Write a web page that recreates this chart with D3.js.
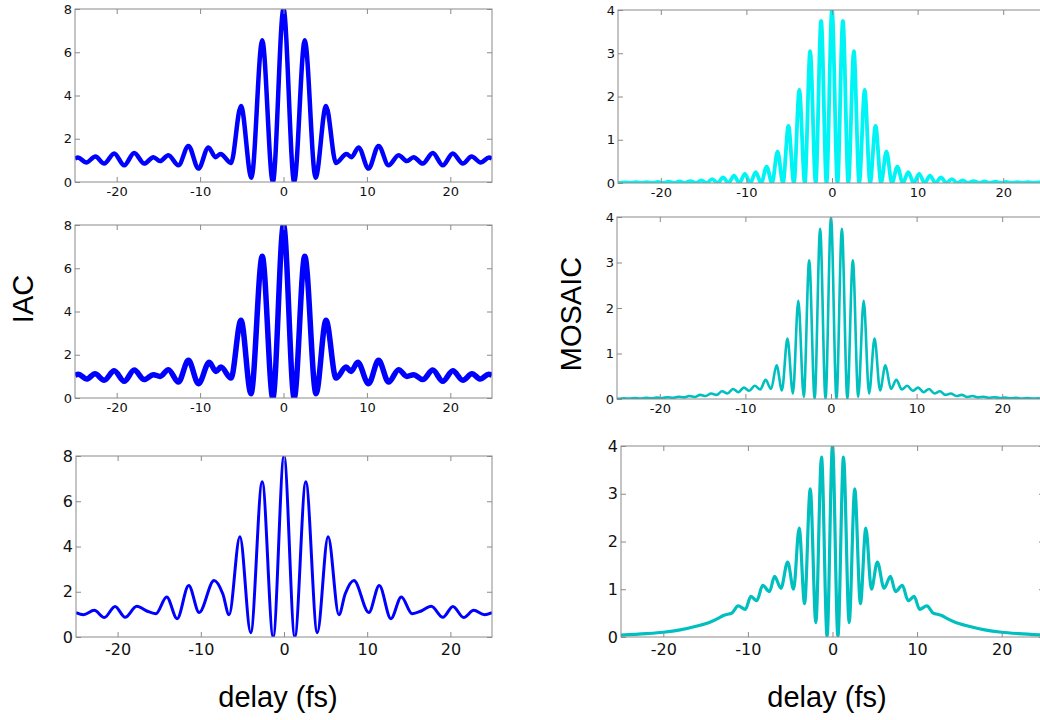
<!DOCTYPE html>
<html>
<head>
<meta charset="utf-8">
<script src="https://cdn.jsdelivr.net/npm/d3@7"></script>
<style>
  html, body { margin: 0; padding: 0; background: #fff; }
  svg { display: block; font-family: "Liberation Sans", Arial, Helvetica, sans-serif; }
</style>
</head>
<body>
<svg id="chart" width="1040" height="720"></svg>
<script>
// ---------- DATA ----------
const delayTicks = [-20, -10, 0, 10, 20];
const iacTicks = [0, 2, 4, 6, 8];
const mosaicTicks = [0, 1, 2, 3, 4];
const delayDomain = [-25, 25];
const iacDomain = [0, 8];
const mosaicDomain = [0, 4];

const rowLabelLeft = "IAC";
const rowLabelRight = "MOSAIC";
const xLabel = "delay (fs)";

// IAC, top panel: extrema [delay fs, value]
const iacTop = [[-25,1.08],[-24.65,1.13],[-23.65,0.9],[-22.55,1.18],[-21.5,0.85],[-20.3,1.32],[-19.1,0.77],[-17.9,1.34],[-16.7,0.85],[-15.6,1.15],[-14.8,0.97],[-13.8,1.24],[-12.6,0.77],[-11.4,1.67],[-10.2,0.62],[-9.0,1.6],[-8.15,1.15],[-7.55,1.3],[-6.3,0.88],[-5.1,3.52],[-3.85,0.2],[-2.55,6.55],[-1.28,0],[0,8],[1.28,0],[2.55,6.55],[3.85,0.2],[5.1,3.52],[6.3,0.88],[7.55,1.3],[8.15,1.15],[9.0,1.6],[10.2,0.62],[11.4,1.67],[12.6,0.77],[13.8,1.24],[14.8,0.97],[15.6,1.15],[16.7,0.85],[17.9,1.34],[19.1,0.77],[20.3,1.32],[21.5,0.85],[22.55,1.18],[23.65,0.9],[24.65,1.13],[25,1.08]];

// IAC, middle panel
const iacMid = [[-25,1.05],[-24.6,1.1],[-23.6,0.88],[-22.6,1.12],[-21.5,0.82],[-20.3,1.26],[-19.1,0.77],[-17.9,1.29],[-16.7,0.85],[-15.6,1.08],[-14.8,1.0],[-13.8,1.31],[-12.6,0.74],[-11.4,1.74],[-10.2,0.66],[-8.9,1.65],[-8.1,1.23],[-7.5,1.43],[-6.3,0.92],[-5.1,3.6],[-3.9,0.2],[-2.55,6.55],[-1.28,0],[0,8],[1.28,0],[2.55,6.55],[3.9,0.2],[5.1,3.6],[6.3,0.92],[7.5,1.43],[8.1,1.23],[8.9,1.65],[10.2,0.66],[11.4,1.74],[12.6,0.74],[13.8,1.31],[14.8,1.0],[15.6,1.08],[16.7,0.85],[17.9,1.29],[19.1,0.77],[20.3,1.26],[21.5,0.82],[22.6,1.12],[23.6,0.88],[24.6,1.1],[25,1.05]];

// IAC, bottom panel
const iacBottom = [[-25,1.08],[-24.1,0.98],[-22.8,1.18],[-21.6,0.86],[-20.3,1.35],[-19.1,0.87],[-17.7,1.36],[-16.5,1.15],[-15.4,1.03],[-14.1,1.77],[-12.85,0.81],[-11.45,2.28],[-10.2,1.08],[-8.4,2.5],[-7.35,1.9],[-6.6,0.98],[-5.3,4.43],[-4.0,0.19],[-2.62,6.86],[-1.3,0],[0,8],[1.3,0],[2.62,6.86],[4.0,0.19],[5.3,4.43],[6.6,0.98],[7.35,1.9],[8.4,2.5],[10.2,1.08],[11.45,2.28],[12.85,0.81],[14.1,1.77],[15.4,1.03],[16.5,1.15],[17.7,1.36],[19.1,0.87],[20.3,1.35],[21.6,0.86],[22.8,1.18],[24.1,0.98],[25,1.08]];

// MOSAIC, top panel
const mosaicTop = [[-25,0.005],[-24.82,0],[-24.18,0.015],[-23.55,0],[-22.91,0.02],[-22.27,0],[-21.64,0.02],[-21.0,0],[-20.36,0.025],[-19.73,0],[-19.09,0.03],[-18.45,0],[-17.82,0.035],[-17.18,0],[-16.55,0.045],[-15.91,0],[-15.27,0.06],[-14.64,0],[-14.0,0.09],[-13.36,0],[-12.73,0.13],[-12.09,0],[-11.45,0.17],[-10.82,0],[-10.18,0.21],[-9.55,0],[-8.91,0.25],[-8.27,0],[-7.64,0.38],[-7.0,0],[-6.36,0.73],[-5.73,0],[-5.09,1.32],[-4.45,0],[-3.82,2.15],[-3.18,0],[-2.55,3.05],[-1.91,0],[-1.27,3.75],[-0.64,0],[0,4.0],[0.64,0],[1.27,3.75],[1.91,0],[2.55,3.05],[3.18,0],[3.82,2.15],[4.45,0],[5.09,1.32],[5.73,0],[6.36,0.73],[7.0,0],[7.64,0.38],[8.27,0],[8.91,0.25],[9.55,0],[10.18,0.21],[10.82,0],[11.45,0.17],[12.09,0],[12.73,0.13],[13.36,0],[14.0,0.09],[14.64,0],[15.27,0.06],[15.91,0],[16.55,0.045],[17.18,0],[17.82,0.035],[18.45,0],[19.09,0.03],[19.73,0],[20.36,0.025],[21.0,0],[21.64,0.02],[22.27,0],[22.91,0.02],[23.55,0],[24.18,0.015],[24.82,0],[25,0.005]];

// MOSAIC, middle panel
const mosaicMid = [[-25,0.01],[-24.82,0.006],[-24.18,0.015],[-23.55,0.008],[-22.91,0.02],[-22.27,0.01],[-21.64,0.025],[-21.0,0.015],[-20.36,0.03],[-19.73,0.02],[-19.09,0.04],[-18.45,0.025],[-17.82,0.05],[-17.18,0.035],[-16.55,0.065],[-15.91,0.045],[-15.27,0.09],[-14.64,0.065],[-14.0,0.12],[-13.36,0.09],[-12.73,0.17],[-12.09,0.12],[-11.45,0.22],[-10.82,0.15],[-10.18,0.25],[-9.55,0.18],[-8.91,0.29],[-8.27,0.21],[-7.64,0.42],[-7.0,0.22],[-6.36,0.74],[-5.73,0.19],[-5.09,1.33],[-4.45,0.12],[-3.82,2.16],[-3.18,0.05],[-2.55,3.05],[-1.91,0.01],[-1.27,3.74],[-0.64,0],[0,4.0],[0.64,0],[1.27,3.74],[1.91,0.01],[2.55,3.05],[3.18,0.05],[3.82,2.16],[4.45,0.12],[5.09,1.33],[5.73,0.19],[6.36,0.74],[7.0,0.22],[7.64,0.42],[8.27,0.21],[8.91,0.29],[9.55,0.18],[10.18,0.25],[10.82,0.15],[11.45,0.22],[12.09,0.12],[12.73,0.17],[13.36,0.09],[14.0,0.12],[14.64,0.065],[15.27,0.09],[15.91,0.045],[16.55,0.065],[17.18,0.035],[17.82,0.05],[18.45,0.025],[19.09,0.04],[19.73,0.02],[20.36,0.03],[21.0,0.015],[21.64,0.025],[22.27,0.01],[22.91,0.02],[23.55,0.008],[24.18,0.015],[24.82,0.006],[25,0.01]];

// MOSAIC, bottom panel
const mosaicBottom = [[-25,0.04],[-22,0.07],[-20,0.1],[-18,0.15],[-16,0.23],[-14.5,0.31],[-13.4,0.4],[-12.9,0.45],[-12.3,0.48],[-11.9,0.5],[-11.15,0.65],[-10.3,0.58],[-9.65,0.85],[-8.95,0.76],[-8.25,1.08],[-7.45,0.95],[-6.85,1.27],[-6.1,1.02],[-5.3,1.57],[-4.6,1.0],[-3.94,2.28],[-3.3,0.7],[-2.63,3.1],[-1.97,0.3],[-1.3,3.77],[-0.64,0.02],[0,4.0],[0.64,0.02],[1.3,3.77],[1.97,0.3],[2.63,3.1],[3.3,0.7],[3.94,2.28],[4.6,1.0],[5.3,1.57],[6.1,1.02],[6.85,1.27],[7.45,0.95],[8.25,1.08],[8.95,0.76],[9.65,0.85],[10.3,0.58],[11.15,0.65],[11.9,0.5],[12.3,0.48],[12.9,0.45],[13.4,0.4],[14.5,0.31],[16,0.23],[18,0.15],[20,0.1],[22,0.07],[25,0.04]];

// ---------- LAYOUT / STYLE ----------
const panels = [
  { data: iacTop,       x0: 75,  x1: 492,  y0: 9,   y1: 182, domain: iacDomain,    ticks: iacTicks,    color: "#0000ff", lw: 4.5, font: 13, xpad: 5, ypad: 3 },
  { data: iacMid,       x0: 75,  x1: 492,  y0: 225, y1: 398, domain: iacDomain,    ticks: iacTicks,    color: "#0000ff", lw: 5.5, font: 13, xpad: 5, ypad: 3 },
  { data: iacBottom,    x0: 76,  x1: 492,  y0: 456, y1: 637, domain: iacDomain,    ticks: iacTicks,    color: "#0000ff", lw: 3,   font: 16, xpad: 7, ypad: 3 },
  { data: mosaicTop,    x0: 618, x1: 1046, y0: 10,  y1: 183, domain: mosaicDomain, ticks: mosaicTicks, color: "#00f4f4", lw: 3.8, font: 13, xpad: 5, ypad: 3 },
  { data: mosaicMid,    x0: 617, x1: 1045, y0: 217, y1: 399, domain: mosaicDomain, ticks: mosaicTicks, color: "#00bfbf", lw: 2.6, font: 13, xpad: 5, ypad: 3 },
  { data: mosaicBottom, x0: 621, x1: 1044, y0: 446, y1: 637, domain: mosaicDomain, ticks: mosaicTicks, color: "#00bfbf", lw: 3.2, font: 16, xpad: 7, ypad: 3 }
];

const frameColor = "#8a8a8a";
const tickFont = "'DejaVu Sans', Verdana, sans-serif";
const svg = d3.select("#chart");
const fmt = d => String(d);

panels.forEach((p, i) => {
  const x = d3.scaleLinear().domain(delayDomain).range([p.x0, p.x1]);
  const y = d3.scaleLinear().domain(p.domain).range([p.y1, p.y0]);
  const g = svg.append("g");

  const clipId = "clip" + i;
  svg.append("clipPath").attr("id", clipId)
    .append("rect").attr("x", p.x0).attr("y", p.y0)
    .attr("width", p.x1 - p.x0).attr("height", p.y1 - p.y0);

  // curve
  const line = d3.line().x(d => x(d[0])).y(d => y(d[1])).curve(d3.curveMonotoneX);
  g.append("path").datum(p.data)
    .attr("clip-path", `url(#${clipId})`)
    .attr("fill", "none").attr("stroke", p.color)
    .attr("stroke-width", p.lw).attr("stroke-linejoin", "round")
    .attr("d", line);

  // axes (ticks pointing inward, MATLAB style)
  const styleAxis = (sel, labels) => {
    sel.select(".domain").remove();
    sel.selectAll(".tick line").attr("stroke", frameColor).attr("stroke-width", 1);
    sel.selectAll(".tick text").attr("fill", labels ? "#111" : "none")
      .style("font-size", p.font + "px")
      .style("font-family", tickFont);
  };
  g.append("g").attr("transform", `translate(0,${p.y1})`)
    .call(d3.axisBottom(x).tickValues(delayTicks).tickSize(-5).tickPadding(p.xpad).tickFormat(fmt))
    .call(s => styleAxis(s, true));
  g.append("g").attr("transform", `translate(0,${p.y0})`)
    .call(d3.axisTop(x).tickValues(delayTicks).tickSize(-5).tickFormat(""))
    .call(s => styleAxis(s, false));
  g.append("g").attr("transform", `translate(${p.x0},0)`)
    .call(d3.axisLeft(y).tickValues(p.ticks).tickSize(-5).tickPadding(p.ypad).tickFormat(fmt))
    .call(s => styleAxis(s, true));
  g.append("g").attr("transform", `translate(${p.x1},0)`)
    .call(d3.axisRight(y).tickValues(p.ticks).tickSize(-5).tickFormat(""))
    .call(s => styleAxis(s, false));

  // frame
  g.append("rect").attr("x", p.x0).attr("y", p.y0)
    .attr("width", p.x1 - p.x0).attr("height", p.y1 - p.y0)
    .attr("fill", "none").attr("stroke", frameColor).attr("stroke-width", 1);
});

// axis titles
svg.append("text").attr("transform", "translate(33,299) rotate(-90)")
  .attr("text-anchor", "middle").style("font-size", "29px").attr("fill", "#000").text(rowLabelLeft);
svg.append("text").attr("transform", "translate(581,314) rotate(-90)")
  .attr("text-anchor", "middle").style("font-size", "29px").attr("fill", "#000").text(rowLabelRight);
svg.append("text").attr("x", 278).attr("y", 707)
  .attr("text-anchor", "middle").style("font-size", "29px").attr("fill", "#000").text(xLabel);
svg.append("text").attr("x", 827).attr("y", 707)
  .attr("text-anchor", "middle").style("font-size", "29px").attr("fill", "#000").text(xLabel);
</script>
</body>
</html>
